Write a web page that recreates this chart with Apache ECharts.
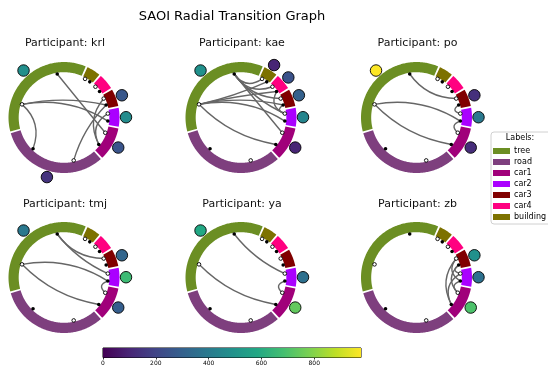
<!DOCTYPE html>
<html><head><meta charset="utf-8">
<script src="https://cdn.jsdelivr.net/npm/echarts@6/dist/echarts.min.js"></script>
<style>html,body{margin:0;padding:0;background:#fff}#c{width:548px;height:369px}</style>
</head><body><div id="c"></div>
<script>
// ---------------- data ----------------
const labels = ['tree','road','car1','car2','car3','car4','building'];
const labelColors = ['#6b8e23','#7e3f7e','#a0007a','#aa00ff','#800000','#ff0080','#7d7200'];
const segmentDegrees = [127.5, 115, 35, 19.5, 18, 16.5, 14.5];
const participants = ['krl','kae','po','tmj','ya','zb'];

// colour-coded value per label (null = no marker)
const krlValues = [480, 145, 255, 470, 265, null, null];
const kaeValues = [490, null, 100, 440, 300, 245, 100];
const poValues  = [975, null, 125, 390, 135, null, null];
const tmjValues = [390, null, 290, 665, 320, null, null];
const yaValues  = [585, null, 740, 360, null, null, null];
const zbValues  = [null, null, 700, 360, 490, null, null];

// transitions [from, to]
const krlTransitions = [['tree','car1'],['car2','tree'],['car3','tree'],['road','tree'],['car3','road'],['car1','car3'],['car1','car2']];
const kaeTransitions = [['tree','building'],['building','tree'],['tree','car4'],['car4','tree'],['tree','car3'],['car3','tree'],['tree','car2'],['car2','tree'],['tree','car1'],['car1','tree'],['car4','car2'],['car3','car2']];
const poTransitions  = [['tree','car3'],['car2','tree'],['car1','tree'],['car3','car2'],['car2','car1']];
const tmjTransitions = [['tree','car3'],['tree','car2'],['car2','tree'],['car1','tree'],['car2','car1']];
const yaTransitions  = [['tree','car2'],['car1','tree'],['car2','car1']];
const zbTransitions  = [['car1','car3'],['car3','car1'],['car1','car2'],['car2','car1'],['car3','car2'],['car2','car3']];

const colorbarTicks = [0, 200, 400, 600, 800];
const colorbarRange = [0, 977];

const valuesBy = {krl: krlValues, kae: kaeValues, po: poValues, tmj: tmjValues, ya: yaValues, zb: zbValues};
const transBy = {krl: krlTransitions, kae: kaeTransitions, po: poTransitions, tmj: tmjTransitions, ya: yaTransitions, zb: zbTransitions};

// ---------------- layout / style ----------------
const viridis = ['#440154','#482475','#414487','#355f8d','#2a788e','#21918c','#22a884','#44bf70','#7ad151','#bddf26','#fde725'];
const centers = [[64,117.5],[241,117.5],[416.5,117.5],[64,277.5],[241,277.5],[416.5,277.5]];
const titleY = [38, 38, 38, 199, 199, 199];
const R_MAX = 70, RING_IN = 45.3, RING_OUT = 55.5, DOT_R = 44, MARK_R = 62;
const START = 67, GAP = 2;
const FONT = 'DejaVu Sans';

const segStart = [], segEnd = [];
(function(){ let acc = START; segmentDegrees.forEach(d => { segStart.push(acc); segEnd.push(acc + d); acc += d + GAP; }); })();
const norm = a => ((a % 360) + 360) % 360;
const outAngle = i => norm(segStart[i] + 0.25 * segmentDegrees[i]);
const inAngle  = i => norm(segStart[i] + 0.75 * segmentDegrees[i]);
const midAngle = i => norm(segStart[i] + 0.5 * segmentDegrees[i]);

const polar = [], angleAxis = [], radiusAxis = [], series = [], titles = [];
const circleSeriesIdx = [];

titles.push({text: 'SAOI Radial Transition Graph', left: 232, top: 10, textAlign: 'center', padding: 0,
  textStyle: {fontSize: 13, fontWeight: 'normal', color: '#000', fontFamily: FONT}});

participants.forEach((p, k) => {
  polar.push({center: centers[k], radius: R_MAX});
  angleAxis.push({polarIndex: k, type: 'value', min: 0, max: 360, startAngle: 0, clockwise: false,
    axisLine: {show: false}, axisTick: {show: false}, axisLabel: {show: false}, splitLine: {show: false}});
  radiusAxis.push({polarIndex: k, type: 'value', min: 0, max: R_MAX,
    axisLine: {show: false}, axisTick: {show: false}, axisLabel: {show: false}, splitLine: {show: false}});
  titles.push({text: 'Participant: ' + p, left: centers[k][0] + 1, top: titleY[k], textAlign: 'center', padding: 0,
    textStyle: {fontSize: 11, fontWeight: 'normal', color: '#111', fontFamily: FONT}});

  // ring segments
  series.push({type: 'custom', coordinateSystem: 'polar', polarIndex: k, z: 1, silent: true,
    data: labels.map((l, i) => [RING_OUT, segStart[i], segEnd[i], i]),
    renderItem(params, api) {
      const a0 = api.value(1), a1 = api.value(2), ci = api.value(3);
      const pts = [];
      const n = Math.max(4, Math.ceil(a1 - a0));
      for (let s = 0; s <= n; s++) pts.push(api.coord([RING_OUT, norm(a0 + (a1 - a0) * s / n)]));
      for (let s = n; s >= 0; s--) pts.push(api.coord([RING_IN, norm(a0 + (a1 - a0) * s / n)]));
      return {type: 'polygon', shape: {points: pts}, style: {fill: labelColors[ci]}};
    }});

  // transitions
  series.push({type: 'custom', coordinateSystem: 'polar', polarIndex: k, z: 2, silent: true,
    data: transBy[p].map(([f, t]) => [labels.indexOf(f), labels.indexOf(t)]),
    renderItem(params, api) {
      const i = api.value(0), j = api.value(1);
      const a0 = outAngle(i), a2 = inAngle(j);
      const diff = ((a2 - a0 + 540) % 360) - 180;
      const sep = Math.abs(diff);
      const am = norm(a0 + diff / 2);
      const cr = DOT_R * (0.5 + 0.35 * Math.max(0, 1 - sep / 60));
      const p0 = api.coord([DOT_R, a0]), p2 = api.coord([DOT_R, a2]), c = api.coord([cr, am]);
      return {type: 'bezierCurve', shape: {x1: p0[0], y1: p0[1], x2: p2[0], y2: p2[1], cpx1: c[0], cpy1: c[1]},
        style: {stroke: '#666666', lineWidth: 1.4, fill: null}};
    }});

  // endpoint dots
  series.push({type: 'scatter', coordinateSystem: 'polar', polarIndex: k, z: 3, silent: true, symbolSize: 3.6,
    itemStyle: {color: '#000', opacity: 1}, data: labels.map((l, i) => [DOT_R, outAngle(i)])});
  series.push({type: 'scatter', coordinateSystem: 'polar', polarIndex: k, z: 3, silent: true, symbolSize: 3.6,
    itemStyle: {color: '#fff', borderColor: '#000', borderWidth: 0.9, opacity: 1}, data: labels.map((l, i) => [DOT_R, inAngle(i)])});

  // value markers
  circleSeriesIdx.push(series.length);
  series.push({type: 'scatter', coordinateSystem: 'polar', polarIndex: k, z: 4, silent: true, symbolSize: 11.5,
    itemStyle: {borderColor: '#000', borderWidth: 0.9, opacity: 1},
    data: valuesBy[p].map((v, i) => v == null ? null : [MARK_R, midAngle(i), v]).filter(d => d)});
});

// colorbar
series.push({type: 'custom', xAxisIndex: 0, yAxisIndex: 0, silent: true, z: 1,
  data: [[colorbarRange[0], colorbarRange[1]]],
  renderItem(params, api) {
    const p0 = api.coord([api.value(0), 0]), p1 = api.coord([api.value(1), 1]);
    return {type: 'rect', shape: {x: p0[0], y: p1[1], width: p1[0] - p0[0], height: p0[1] - p1[1]},
      style: {fill: new echarts.graphic.LinearGradient(0, 0, 1, 0, viridis.map((c, i) => ({offset: i / (viridis.length - 1), color: c})))}};
  }});

// legend helper series
labels.forEach((l, i) => series.push({type: 'custom', name: l, coordinateSystem: 'none', data: [],
  renderItem: () => null, itemStyle: {color: labelColors[i]}}));

titles.push({text: 'Labels:', left: 520, top: 134, textAlign: 'center', padding: 0,
  textStyle: {fontSize: 8, fontWeight: 'normal', color: '#000', fontFamily: FONT}});

const option = {
  animation: false,
  backgroundColor: '#fff',
  title: titles,
  polar, angleAxis, radiusAxis,
  grid: {left: 103, top: 348, width: 258, height: 9.5, show: true, borderColor: '#000', borderWidth: 1, backgroundColor: 'transparent'},
  xAxis: {type: 'value', min: colorbarRange[0], max: colorbarRange[1], interval: 200,
    axisLine: {show: false}, splitLine: {show: false},
    axisTick: {show: true, length: 2, lineStyle: {color: '#000', width: 0.8}},
    axisLabel: {fontSize: 6, margin: 3, color: '#000', fontFamily: FONT, showMaxLabel: false,
      formatter: v => colorbarTicks.indexOf(v) >= 0 ? String(v) : ''}},
  yAxis: {type: 'value', min: 0, max: 1, show: false},
  visualMap: {type: 'continuous', show: false, min: colorbarRange[0], max: colorbarRange[1], dimension: 2,
    seriesIndex: circleSeriesIdx, inRange: {color: viridis, opacity: 1}},
  legend: {orient: 'vertical', left: 491, top: 132, padding: [15, 8, 3, 2], icon: 'rect',
    itemWidth: 17, itemHeight: 6, itemGap: 3, borderColor: '#d0d0d0', borderWidth: 1, borderRadius: 3,
    selectedMode: false, data: labels,
    textStyle: {fontSize: 8, color: '#000', fontFamily: FONT, padding: [0, 0, 0, -1]}},
  series
};
const chart = echarts.init(document.getElementById('c'));
chart.setOption(option);
</script></body></html>
